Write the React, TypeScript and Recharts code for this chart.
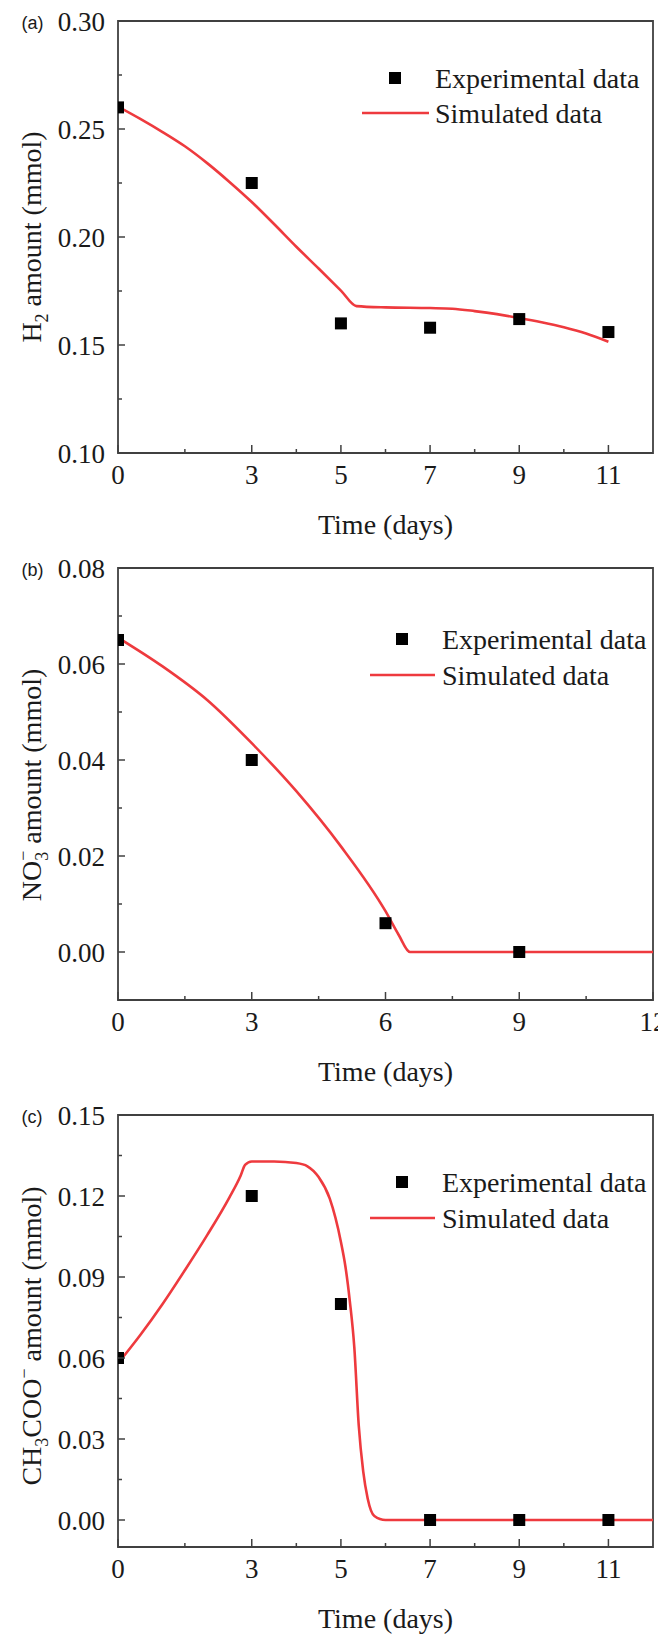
import React from 'react';
import { ComposedChart, Line, Scatter, XAxis, YAxis, ReferenceArea, Label } from 'recharts';

// (a) H2
const expDaysA = [0, 3, 5, 7, 9, 11];
const expH2 = [0.26, 0.225, 0.16, 0.158, 0.162, 0.156];
const simDaysA = [0, 0.5, 1, 1.5, 2, 2.5, 3, 3.5, 4, 4.5, 5, 5.35, 6, 7, 7.5, 8, 8.5, 9, 9.5, 10, 10.5, 11];
const simH2 = [0.2604, 0.2547, 0.2486, 0.242, 0.2342, 0.2255, 0.2162, 0.206, 0.1955, 0.1854, 0.1752, 0.168, 0.1674, 0.1671, 0.1668, 0.1657, 0.1643, 0.1625, 0.1605, 0.1582, 0.1553, 0.1515];
const xTicksA = [0, 1.5, 3, 4, 5, 6, 7, 8, 9, 10, 11];
const xLabelsA = [0, 3, 5, 7, 9, 11];
const yTicksA = [0.1, 0.125, 0.15, 0.175, 0.2, 0.225, 0.25, 0.275, 0.3];
const yLabelsA = [0.1, 0.15, 0.2, 0.25, 0.3];

// (b) NO3-
const expDaysB = [0, 3, 6, 9];
const expNO3 = [0.065, 0.04, 0.006, 0];
const simDaysB = [0, 1, 2, 3, 4, 5, 6, 6.3, 6.55, 8, 10, 12];
const simNO3 = [0.0655, 0.0595, 0.0525, 0.0435, 0.0335, 0.022, 0.0085, 0.0035, 0, 0, 0, 0];
const xTicksB = [0, 1.5, 3, 4.5, 6, 7.5, 9, 10.5, 12];
const xLabelsB = [0, 3, 6, 9, 12];
const yTicksB = [0, 0.01, 0.02, 0.03, 0.04, 0.05, 0.06, 0.07, 0.08];
const yLabelsB = [0, 0.02, 0.04, 0.06, 0.08];

// (c) CH3COO-
const expDaysC = [0, 3, 5, 7, 9, 11];
const expAc = [0.06, 0.12, 0.08, 0, 0, 0];
const simDaysC = [0, 0.5, 1, 1.5, 2, 2.5, 2.75, 2.85, 3, 3.5, 4, 4.25, 4.5, 4.75, 5, 5.1, 5.2, 5.3, 5.4, 5.5, 5.6, 5.75, 6, 8, 10, 12];
const simAc = [0.058, 0.0685, 0.08, 0.0925, 0.1055, 0.1195, 0.1275, 0.1315, 0.1328, 0.1328, 0.1322, 0.131, 0.127, 0.119, 0.103, 0.094, 0.081, 0.064, 0.035, 0.018, 0.008, 0.0015, 0, 0, 0, 0];
const xTicksC = [0, 1.5, 3, 4, 5, 6, 7, 8, 9, 10, 11];
const xLabelsC = [0, 3, 5, 7, 9, 11];
const yTicksC = [0, 0.015, 0.03, 0.045, 0.06, 0.075, 0.09, 0.105, 0.12, 0.135, 0.15];
const yLabelsC = [0, 0.03, 0.06, 0.09, 0.12, 0.15];

const SERIF = '"Liberation Serif", "Times New Roman", serif';
const SANS = '"Liberation Sans", Arial, sans-serif';
const AXIS = '#404040';
const INK = '#1a1a1a';
const RED = '#ee3a3e';

const W = 658;
const H = 547;
// axis boxes are 1px wide/tall, plot spans x 118..653, y 21..453
const M = { top: 21, right: 5, bottom: 93, left: 117 };
const PLOT_LEFT = 118;
const PLOT_BOTTOM = 453;
const PLOT_CX = PLOT_LEFT + (W - PLOT_LEFT - M.right) / 2;

const toPts = (xs: number[], ys: number[]) => xs.map((x, i) => ({ x, y: ys[i] }));
const has = (arr: number[], v: number) => arr.some((a) => Math.abs(a - v) < 1e-9);

const Square = (props: any) => {
  const { cx, cy } = props;
  if (cx == null || cy == null) return null;
  return <rect x={cx - 6} y={cy - 6} width={12} height={12} fill="#000" />;
};

const renderXTick = (props: any, labels: number[]) => {
  const { x, y, payload } = props;
  const major = has(labels, payload.value);
  return (
    <g>
      <line x1={x} x2={x} y1={y} y2={y - (major ? 8 : 4)} stroke={AXIS} strokeWidth={1.5} />
      {major && (
        <text x={x} y={y + 31} textAnchor="middle" fontFamily={SERIF} fontSize={27} fill={INK}>
          {payload.value}
        </text>
      )}
    </g>
  );
};

const renderYTick = (props: any, labels: number[]) => {
  const { x, y, payload } = props;
  const major = has(labels, payload.value);
  return (
    <g>
      <line x1={x} x2={x + (major ? 7 : 4)} y1={y} y2={y} stroke={AXIS} strokeWidth={1.5} />
      {major && (
        <text x={x - 13} y={y + 9.5} textAnchor="end" fontFamily={SERIF} fontSize={27} fill={INK}>
          {payload.value.toFixed(2)}
        </text>
      )}
    </g>
  );
};

type LegendPos = { sq: [number, number]; line: [number, number, number]; textX: number };

const LegendBox = ({ pos }: { pos: LegendPos }) => (
  <svg width={W} height={H} style={{ position: 'absolute', left: 0, top: 0, pointerEvents: 'none' }}>
    <rect x={pos.sq[0] - 6} y={pos.sq[1] - 6} width={12} height={12} fill="#000" />
    <text x={pos.textX} y={pos.sq[1] + 9.5} fontFamily={SERIF} fontSize={28} fill={INK}>
      Experimental data
    </text>
    <line x1={pos.line[0]} x2={pos.line[1]} y1={pos.line[2]} y2={pos.line[2]} stroke={RED} strokeWidth={2.6} />
    <text x={pos.textX} y={pos.line[2] + 9.5} fontFamily={SERIF} fontSize={28} fill={INK}>
      Simulated data
    </text>
  </svg>
);

type PanelProps = {
  tag: string;
  top: number;
  exp: { x: number; y: number }[];
  sim: { x: number; y: number }[];
  xDomain: [number, number];
  yDomain: [number, number];
  xTicks: number[];
  xLabels: number[];
  yTicks: number[];
  yLabels: number[];
  yTitle: React.ReactNode;
  yTitleCy: number;
  legend: LegendPos;
};

const Panel = (p: PanelProps) => (
  <div style={{ position: 'absolute', left: 0, top: p.top, width: W, height: H }}>
    <ComposedChart width={W} height={H} margin={M}>
      <XAxis
        type="number"
        dataKey="x"
        domain={p.xDomain}
        ticks={p.xTicks}
        interval={0}
        allowDataOverflow
        height={1}
        tickSize={0}
        tickMargin={0}
        axisLine={false}
        tickLine={false}
        tick={(props: any) => renderXTick(props, p.xLabels)}
      >
        <Label
          content={() => (
            <text x={PLOT_CX} y={PLOT_BOTTOM + 80.5} textAnchor="middle" fontFamily={SERIF} fontSize={28} fill={INK}>
              Time (days)
            </text>
          )}
        />
      </XAxis>
      <YAxis
        type="number"
        dataKey="y"
        domain={p.yDomain}
        ticks={p.yTicks}
        interval={0}
        allowDataOverflow
        width={1}
        tickSize={0}
        tickMargin={0}
        axisLine={false}
        tickLine={false}
        tick={(props: any) => renderYTick(props, p.yLabels)}
      >
        <Label
          content={() => (
            <g>
              <text x={21.5} y={28.5} fontFamily={SANS} fontSize={18} fill={INK}>
                {p.tag}
              </text>
              <text
                x={31}
                y={p.yTitleCy + 9.5}
                transform={`rotate(-90 31 ${p.yTitleCy})`}
                textAnchor="middle"
                fontFamily={SERIF}
                fontSize={28}
                fill={INK}
              >
                {p.yTitle}
              </text>
            </g>
          )}
        />
      </YAxis>
      <ReferenceArea
        x1={p.xDomain[0]}
        x2={p.xDomain[1]}
        y1={p.yDomain[0]}
        y2={p.yDomain[1]}
        fill="none"
        stroke={AXIS}
        strokeWidth={1.8}
        fillOpacity={0}
      />
      <Line
        data={p.sim}
        dataKey="y"
        type="monotone"
        stroke={RED}
        strokeWidth={2.6}
        dot={false}
        activeDot={false}
        isAnimationActive={false}
      />
      <Scatter data={p.exp} dataKey="y" shape={Square} isAnimationActive={false} />
    </ComposedChart>
    <LegendBox pos={p.legend} />
  </div>
);

export default function App() {
  return (
    <div style={{ position: 'absolute', left: 0, top: 0, width: W, height: 1635, overflow: 'hidden', background: '#fff' }}>
      <Panel
        tag="(a)"
        top={0}
        exp={toPts(expDaysA, expH2)}
        sim={toPts(simDaysA, simH2)}
        xDomain={[0, 12]}
        yDomain={[0.1, 0.3]}
        xTicks={xTicksA}
        xLabels={xLabelsA}
        yTicks={yTicksA}
        yLabels={yLabelsA}
        yTitleCy={237}
        yTitle={
          <>
            H<tspan dy={7} fontSize={18}>2</tspan>
            <tspan dy={-7}> amount (mmol)</tspan>
          </>
        }
        legend={{ sq: [395, 78], line: [362, 429, 113], textX: 435 }}
      />
      <Panel
        tag="(b)"
        top={547}
        exp={toPts(expDaysB, expNO3)}
        sim={toPts(simDaysB, simNO3)}
        xDomain={[0, 12]}
        yDomain={[-0.01, 0.08]}
        xTicks={xTicksB}
        xLabels={xLabelsB}
        yTicks={yTicksB}
        yLabels={yLabelsB}
        yTitleCy={238}
        yTitle={
          <>
            NO<tspan dy={7} fontSize={18}>3</tspan>
            <tspan dx={-9} dy={-19} fontSize={18}>−</tspan>
            <tspan dy={12}> amount (mmol)</tspan>
          </>
        }
        legend={{ sq: [402, 92], line: [370, 435, 128], textX: 442 }}
      />
      <Panel
        tag="(c)"
        top={1094}
        exp={toPts(expDaysC, expAc)}
        sim={toPts(simDaysC, simAc)}
        xDomain={[0, 12]}
        yDomain={[-0.01, 0.15]}
        xTicks={xTicksC}
        xLabels={xLabelsC}
        yTicks={yTicksC}
        yLabels={yLabelsC}
        yTitleCy={242}
        yTitle={
          <>
            CH<tspan dy={7} fontSize={18}>3</tspan>
            <tspan dy={-7}>COO</tspan>
            <tspan dy={-11} fontSize={18}>−</tspan>
            <tspan dy={11}> amount (mmol)</tspan>
          </>
        }
        legend={{ sq: [402, 88], line: [370, 435, 124], textX: 442 }}
      />
    </div>
  );
}
